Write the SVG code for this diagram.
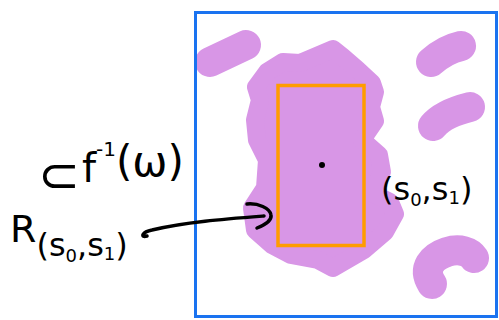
<svg xmlns="http://www.w3.org/2000/svg" width="499" height="320" viewBox="0 0 499 320">
<style>
.blob{fill:#d896e6;stroke:#d896e6;stroke-linejoin:round;stroke-linecap:round}
.thick{fill:none;stroke:#d896e6;stroke-linecap:round;stroke-linejoin:round;stroke-width:30}
.ink{fill:none;stroke:#000;stroke-width:3.5;stroke-linecap:round;stroke-linejoin:round}
.hw{font-family:"DejaVu Sans",sans-serif;fill:#000}
</style>
<rect width="499" height="320" fill="#fff"/>
<g id="blobs">
<path class="thick" d="M210,62 L246,45"/>
<path class="thick" d="M431,62 C440,54 452,48 461,46"/>
<path class="thick" d="M433,126 C442,115 458,110 470,107"/>
<path class="thick" d="M432,284 C422,268 432,257 447,252 C460,248 470,252 474,258"/>
<path class="blob" stroke-width="18" d="M283,62 L300,63 L333,49 L343,57 L358,70 L372,83 L375,92 L371,107 L375,121 L362,140 L379,155 L382,172 L372,193 L390,202 L395,214 L385,232 L364,250 L333,268 L318,260 L291,255 L272,245 L255,230 L252,208 L265,188 L267,160 L257,140 L255,120 L260,100 L256,87 L267,72 Z"/>
</g>
<rect id="domain" x="195.5" y="12.5" width="301" height="304" fill="none" stroke="#1a73f0" stroke-width="3"/>
<g id="rect-R">
<rect x="278" y="85.5" width="86" height="160" fill="none" stroke="#ff9c00" stroke-width="3.5"/>
<circle cx="322" cy="165" r="3" fill="#000"/>
</g>
<g id="connectors">
<path class="ink" d="M147,236 C140,238 142,232 152,230 C185,222 225,219 264,216"/>
<path class="ink" d="M247,204 C258,203 270,208 271,215 C272,221 262,226 257,228"/>
</g>
<g id="labels">
<text class="hw" x="38" y="192" font-size="50">⊂<tspan font-size="40" dx="2" dy="-10">f</tspan><tspan font-size="20" dy="-26">-1</tspan><tspan font-size="42" dy="20">(ω)</tspan></text>
<text class="hw" x="10" y="242" font-size="38">R<tspan font-size="32" dy="14">(s</tspan><tspan font-size="18" dy="6">0</tspan><tspan font-size="32" dy="-6">,s</tspan><tspan font-size="18" dy="4">1</tspan><tspan font-size="32" dy="-4">)</tspan></text>
<text class="hw" x="381" y="200" font-size="32">(s<tspan font-size="18" dy="6">0</tspan><tspan dy="-6">,s</tspan><tspan font-size="18" dy="4">1</tspan><tspan dy="-4">)</tspan></text>
</g>
</svg>
